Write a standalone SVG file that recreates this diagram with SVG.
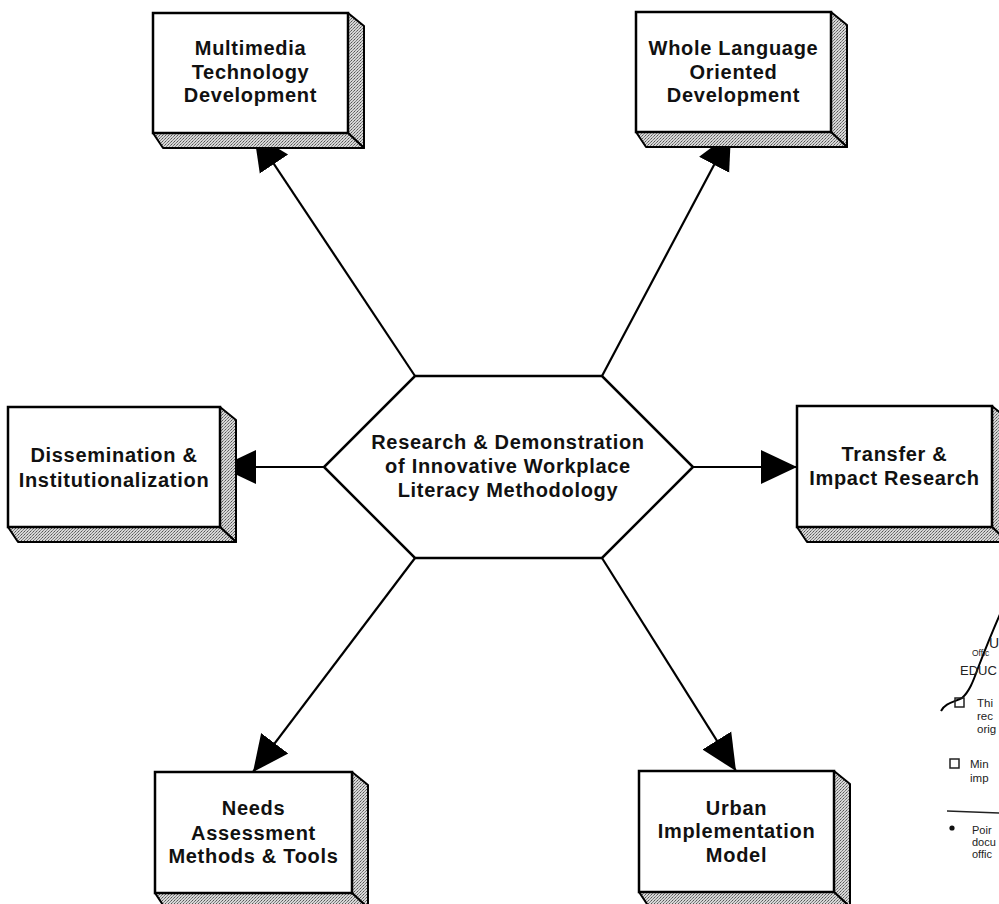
<svg xmlns="http://www.w3.org/2000/svg" width="999" height="904" viewBox="0 0 999 904">
<style>
.face{fill:#fff;stroke:#000;stroke-width:2.5;stroke-linejoin:miter}
.side{fill:url(#stip);stroke:#000;stroke-width:2;stroke-linejoin:round}
.lbl{font-family:"Liberation Sans",Arial,sans-serif;font-weight:bold;font-size:20px;letter-spacing:0.7px;fill:#111;text-anchor:middle}
.conn line{stroke:#000;stroke-width:2.2;marker-end:url(#ah)}
.frag{font-family:"Liberation Sans",Arial,sans-serif;fill:#222}
</style>
<defs>
<pattern id="stip" width="3" height="3" patternUnits="userSpaceOnUse">
<rect width="3" height="3" fill="#d6d6d6"/>
<rect x="0" y="0" width="1" height="1" fill="#555"/>
<rect x="2" y="1" width="1" height="1" fill="#777"/>
<rect x="1" y="2" width="1" height="1" fill="#888"/>
</pattern>
<marker id="ah" markerUnits="userSpaceOnUse" markerWidth="38" markerHeight="36" refX="36" refY="18" orient="auto">
<path d="M0,1 L36,18 L0,35 z" fill="#000"/>
</marker>
</defs>
<rect width="999" height="904" fill="#fff"/>

<g id="connectors" class="conn">
<line x1="415" y1="376" x2="254" y2="134"/>
<line x1="602" y1="376" x2="731" y2="133"/>
<line x1="324" y1="467" x2="220" y2="467"/>
<line x1="693" y1="467" x2="797" y2="467"/>
<line x1="415" y1="558" x2="253" y2="772"/>
<line x1="602" y1="558" x2="736" y2="771"/>
</g>

<g id="center">
<polygon points="415,376 602,376 693,467 602,558 415,558 324,467" fill="#fff" stroke="#000" stroke-width="2.5"/>
<text class="lbl" x="508" y="449">Research &amp; Demonstration</text>
<text class="lbl" x="508" y="473">of Innovative Workplace</text>
<text class="lbl" x="508" y="497">Literacy Methodology</text>
</g>

<g id="multimedia">
<polygon class="side" points="348,13 364,26 364,148 348,133"/>
<polygon class="side" points="153,133 348,133 364,148 163,148"/>
<rect class="face" x="153" y="13" width="195" height="120"/>
<text class="lbl" x="250.5" y="55">Multimedia</text>
<text class="lbl" x="250.5" y="79">Technology</text>
<text class="lbl" x="250.5" y="102">Development</text>
</g>

<g id="wholelanguage">
<polygon class="side" points="831,12 847,25 847,147 831,132"/>
<polygon class="side" points="636,132 831,132 847,147 646,147"/>
<rect class="face" x="636" y="12" width="195" height="120"/>
<text class="lbl" x="733.5" y="55">Whole Language</text>
<text class="lbl" x="733.5" y="79">Oriented</text>
<text class="lbl" x="733.5" y="102">Development</text>
</g>

<g id="dissemination">
<polygon class="side" points="220,407 236,420 236,542 220,527"/>
<polygon class="side" points="8,527 220,527 236,542 18,542"/>
<rect class="face" x="8" y="407" width="212" height="120"/>
<text class="lbl" x="114" y="462">Dissemination &amp;</text>
<text class="lbl" x="114" y="487">Institutionalization</text>
</g>

<g id="transfer">
<polygon class="side" points="992,406 1008,419 1008,542 992,527"/>
<polygon class="side" points="797,527 992,527 1008,542 807,542"/>
<rect class="face" x="797" y="406" width="195" height="121"/>
<text class="lbl" x="894.5" y="461">Transfer &amp;</text>
<text class="lbl" x="894.5" y="485">Impact Research</text>
</g>

<g id="needs">
<polygon class="side" points="352,772 368,785 368,908 352,893"/>
<polygon class="side" points="155,893 352,893 368,908 165,908"/>
<rect class="face" x="155" y="772" width="197" height="121"/>
<text class="lbl" x="253.5" y="815">Needs</text>
<text class="lbl" x="253.5" y="840">Assessment</text>
<text class="lbl" x="253.5" y="863">Methods &amp; Tools</text>
</g>

<g id="urban">
<polygon class="side" points="834,771 850,784 850,907 834,892"/>
<polygon class="side" points="639,892 834,892 850,907 649,907"/>
<rect class="face" x="639" y="771" width="195" height="121"/>
<text class="lbl" x="736.5" y="815">Urban</text>
<text class="lbl" x="736.5" y="838">Implementation</text>
<text class="lbl" x="736.5" y="862">Model</text>
</g>

<g id="stamp-fragment">
<path d="M1001,612 C993,630 985,650 978,668 C973,682 969,692 962,698 C954,702 945,703 941,711" fill="none" stroke="#000" stroke-width="2"/>
<text class="frag" x="989" y="648" font-size="14">U</text>
<text class="frag" x="972" y="656" font-size="8.5">Offic</text>
<text class="frag" x="960" y="675" font-size="13">EDUC</text>
<rect x="955" y="698" width="9" height="9" fill="none" stroke="#222" stroke-width="1.5"/>
<text class="frag" x="977" y="707" font-size="11.5">Thi</text>
<text class="frag" x="977" y="720" font-size="11.5">rec</text>
<text class="frag" x="977" y="733" font-size="11.5">orig</text>
<rect x="950" y="759" width="9" height="9" fill="none" stroke="#222" stroke-width="1.5"/>
<text class="frag" x="970" y="768" font-size="11.5">Min</text>
<text class="frag" x="970" y="782" font-size="11.5">imp</text>
<line x1="947" y1="811" x2="999" y2="813" stroke="#222" stroke-width="1.3"/>
<circle cx="952" cy="828" r="2.6" fill="#111"/>
<text class="frag" x="972" y="834" font-size="11">Poir</text>
<text class="frag" x="972" y="846" font-size="11">docu</text>
<text class="frag" x="972" y="858" font-size="11">offic</text>
</g>
</svg>
